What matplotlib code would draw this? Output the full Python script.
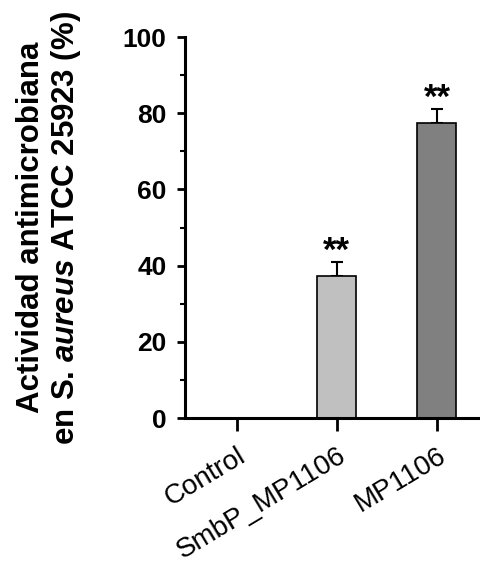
import numpy as np
import matplotlib.pyplot as plt
from matplotlib.ticker import MultipleLocator

plt.rcParams['font.family'] = ['Liberation Sans', 'DejaVu Sans']
plt.rcParams['mathtext.fontset'] = 'custom'
plt.rcParams['mathtext.it'] = 'Liberation Sans:italic:bold'
plt.rcParams['mathtext.rm'] = 'Liberation Sans:bold'

# datos
grupos = ['Control', 'SmbP_MP1106', 'MP1106']
actividad = [0, 37.3, 77.4]
error = [0, 3.7, 3.7]
colores = ['white', '#c0c0c0', '#808080']
signif = ['', '**', '**']

fig = plt.figure(figsize=(4.8, 5.65), dpi=100)
ax = fig.add_axes([0.385, 0.26, 0.615, 0.6745])

x = np.arange(len(grupos))
for i in range(len(grupos)):
    if actividad[i] <= 0:
        continue
    ax.bar(x[i], actividad[i], width=0.39, color=colores[i], edgecolor='black', linewidth=1.2, zorder=2)
    ax.errorbar(x[i], actividad[i], yerr=[[0], [error[i]]], fmt='none', ecolor='black',
                elinewidth=1.5, capsize=4.5, capthick=1.5, zorder=1)
    ax.text(x[i], actividad[i] + error[i] + 0.2, signif[i], ha='center', va='baseline',
            fontsize=25, fontweight='bold')

ax.set_xlim(-0.52, 2.43)
ax.set_ylim(0, 100)
ax.yaxis.set_major_locator(MultipleLocator(20))
ax.yaxis.set_minor_locator(MultipleLocator(10))

for s in ['top', 'right']:
    ax.spines[s].set_visible(False)
for s in ['left', 'bottom']:
    ax.spines[s].set_linewidth(2.2)

ax.tick_params(axis='y', which='major', length=6, width=2, labelsize=19, pad=7)
ax.tick_params(axis='y', which='minor', length=3.5, width=1.5)
ax.tick_params(axis='x', which='major', length=9, width=2, pad=9)
for t in ax.get_yticklabels():
    t.set_fontweight('bold')

ax.set_xticks(x)
ax.set_xticklabels(grupos, rotation=31, ha='right', rotation_mode='anchor', fontsize=20)

ax.set_ylabel('Actividad antimicrobiana\nen S. $aureus$ ATCC 25923 (%)', fontsize=22.5,
              fontweight='bold', va='center', linespacing=1.15)
ax.yaxis.set_label_coords(-0.458, 0.5)

fig.savefig('out.png', dpi=100)
